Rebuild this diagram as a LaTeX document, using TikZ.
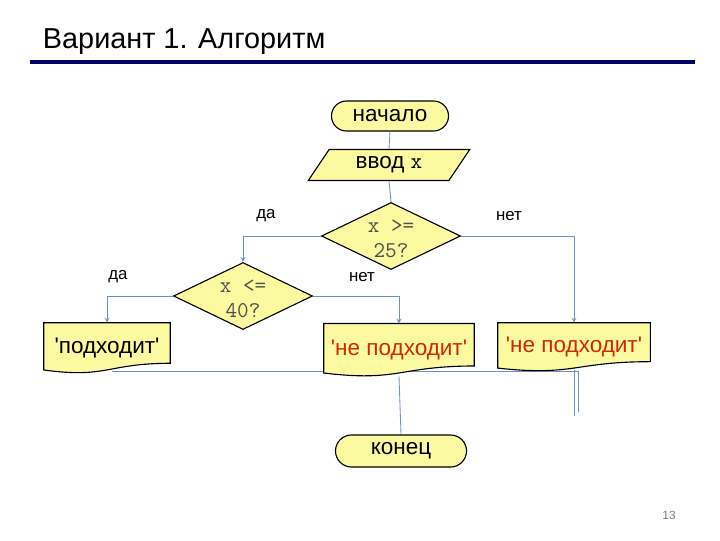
\documentclass[tikz,border=0pt]{standalone}
\usepackage{fontspec}
\setmainfont{Liberation Sans}
\usetikzlibrary{shapes.geometric,shapes.misc,calc,backgrounds}
\definecolor{blockfill}{RGB}{252,250,160}
\definecolor{linkblue}{RGB}{110,145,195}
\definecolor{titlenavy}{RGB}{0,0,102}
\definecolor{answred}{RGB}{210,40,0}
\definecolor{condgray}{RGB}{80,80,80}
\newcommand{\docshape}[1]{%
  \draw[fill=blockfill, line width=0.8pt] (#1.north west) -- (#1.north east)
    -- ($(#1.north east)!0.802!(#1.south east)$)
    .. controls ($(#1.north)!0.802!(#1.south)$) and ($(#1.north)!1.1075!(#1.south)$)
    .. ($(#1.north west)!0.934!(#1.south west)$) -- cycle;}
\newcommand{\condtext}[2]{%
  \raisebox{-15pt}[0pt][0pt]{\begin{tabular}[b]{@{}c@{}}#1\\#2\end{tabular}}}

\tikzset{
  terminal/.style={rounded rectangle, draw, fill=blockfill, line width=0.8pt,
    inner sep=0pt, font=\fontsize{16}{19}\selectfont},
  inputbox/.style={trapezium, trapezium left angle=55, trapezium right angle=125,
    trapezium stretches=true, draw, fill=blockfill, line width=0.8pt, inner sep=0pt,
    minimum width=4.05cm, minimum height=0.775cm, font=\fontsize{16}{19}\selectfont},
  cond/.style={diamond, draw, fill=blockfill, line width=0.8pt, aspect=2.07,
    inner sep=0pt, minimum width=3.475cm, minimum height=1.675cm,
    text=condgray, font=\ttfamily\fontsize{16}{17.8}\selectfont},
  docbox/.style={rectangle, inner sep=0pt, font=\fontsize{16}{19}\selectfont},
  answer/.style={font=\fontsize{12}{14}\selectfont},
  link/.style={linkblue, line width=0.6pt}
}

\begin{document}
\begin{tikzpicture}[x=0.025cm, y=-0.025cm]
  \useasboundingbox (0,0) rectangle (720,540);
  % heading
  \node[anchor=base west, font=\fontsize{20.5}{24}\selectfont] (title) at (38,48) {Вариант 1. Алгоритм};
  \draw[titlenavy, line width=2.2pt] (30,62) -- (695,62);

  \node[terminal, minimum width=2.925cm, minimum height=0.75cm] (start) at (390,116) {начало};
  \node[inputbox] (input) at (389,165) {ввод \texttt{x}};
  \node[cond] (d1) at (391,236) {\condtext{x >=}{25?}};
  \node[cond] (d2) at (243,296) {\condtext{x <=}{40?}};
  \node[docbox, minimum width=3.15cm, minimum height=1.25cm] (yes) at (107,348) {\textquotesingle подходит\textquotesingle};
  \node[docbox, minimum width=3.75cm, minimum height=1.31cm, text=answred] (no1) at (399,350) {\textquotesingle не подходит\textquotesingle};
  \node[docbox, minimum width=3.8cm, minimum height=1.2cm, text=answred] (no2) at (574,347) {\textquotesingle не подходит\textquotesingle};
  \node[terminal, minimum width=3.275cm, minimum height=0.8cm] (stop) at (401,451) {конец};

  \node[answer] (yes1) at (266,216) {да};
  \node[answer] (no1lbl) at (509,216) {нет};
  \node[answer] (yes2) at (118,277) {да};
  \node[answer] (no2lbl) at (362,277) {нет};

  \coordinate (j1) at (112,371);
  \coordinate (j2) at (578,371);
  \coordinate (j3) at (578,412);
  \coordinate (k1) at (574,370);
  \coordinate (k2) at (574,416);

  \begin{scope}[on background layer]
    \draw[link] (j1) -- (j2) -- (j3);
    \draw[link] (k1) -- (k2);
    \draw[link] (no1.south) -- (stop.north);
    \docshape{yes}
    \docshape{no1}
    \docshape{no2}
  \end{scope}

  \draw[link] (start.south) -- (input.north);
  \draw[link] (input.south) -- (d1.north);
  \draw[link,-stealth] (d1.west) -| (d2.north);
  \draw[link,-stealth] (d1.east) -| (no2.north);
  \draw[link,-stealth] (d2.west) -| (yes.north);
  \draw[link,-stealth] (d2.east) -| (no1.north);

  \node[font=\fontsize{8.5}{10}\selectfont, text=gray] (page) at (669,515) {13};
\end{tikzpicture}
\end{document}
